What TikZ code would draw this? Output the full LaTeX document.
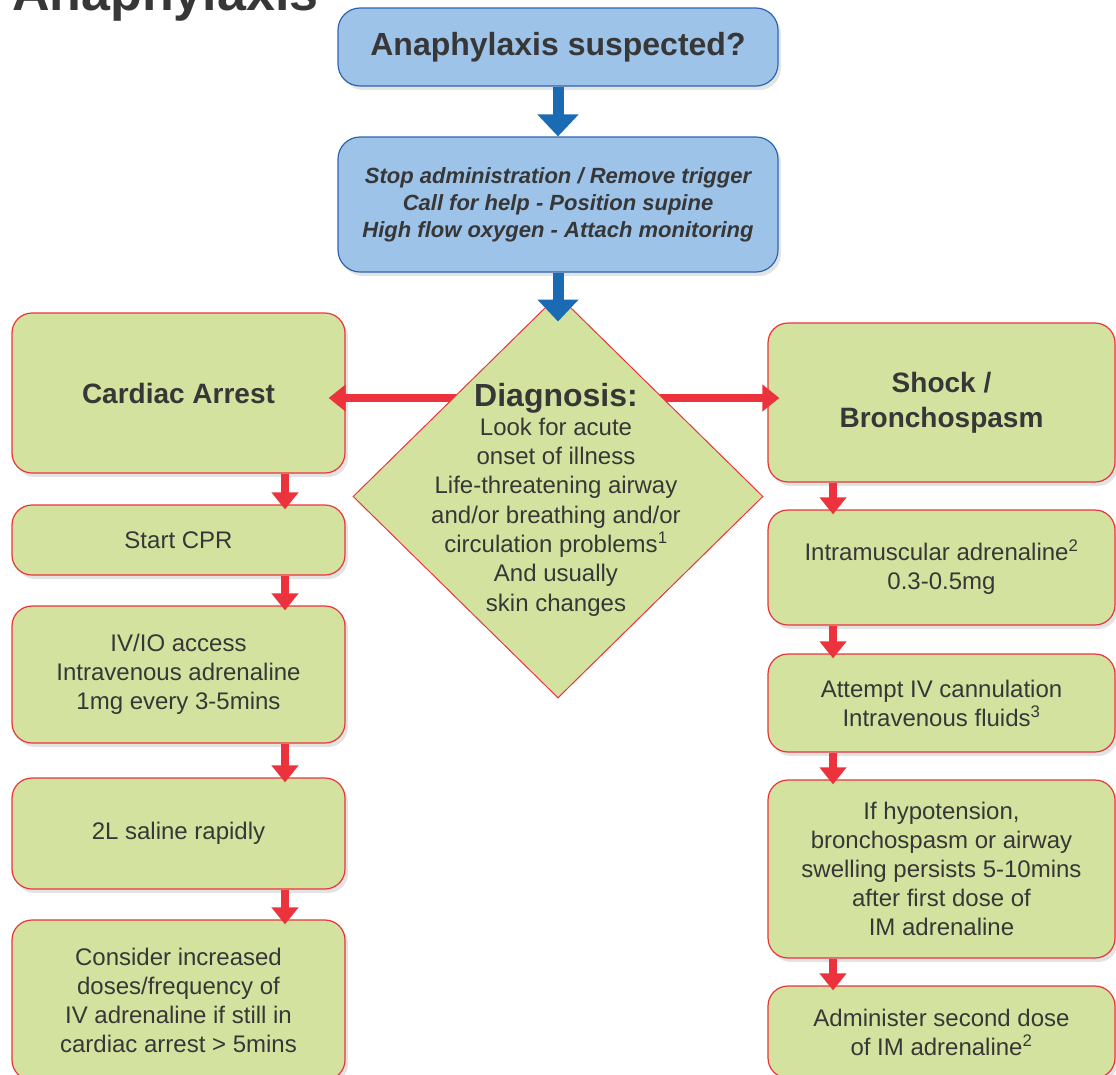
\documentclass[tikz,border=0pt]{standalone}
\usepackage{fontspec}
\setmainfont{Liberation Sans}
\usetikzlibrary{shapes.geometric,arrows.meta,shadows,calc}
\definecolor{gfill}{RGB}{211,227,159}
\definecolor{rline}{RGB}{236,50,60}
\definecolor{bfill}{RGB}{157,195,232}
\definecolor{bline}{RGB}{46,100,175}
\definecolor{barrow}{RGB}{26,106,180}
\definecolor{txt}{RGB}{55,55,55}
\begin{document}
\begin{tikzpicture}[x=1pt,y=-1pt,
  shadowed/.style={drop shadow={shadow xshift=3pt,shadow yshift=-4pt,opacity=0.22}},
  gbox/.style={draw=rline,line width=1.2pt,fill=gfill,rounded corners=20pt,align=center,text=txt,inner sep=0pt,font=\fontsize{24}{29}\selectfont,shadowed},
  bigtxt/.style={font=\fontsize{28}{35}\selectfont\bfseries},
  bbox/.style={draw=bline,line width=1.2pt,fill=bfill,rounded corners=22pt,align=center,text=txt,inner sep=0pt,shadowed},
  redarr/.style={draw=rline,line width=8pt,-{Triangle[width=26pt,length=17pt]}},
  bluearr/.style={draw=barrow,line width=11pt,-{Triangle[width=40pt,length=22pt]}},
  diabox/.style={diamond,draw=rline,line width=1pt,fill=gfill,inner sep=0pt,minimum width=410pt,minimum height=403pt},
  ttl/.style={font=\fontsize{52}{60}\selectfont\bfseries,text=txt,inner sep=0pt}
]
\useasboundingbox (0,0) rectangle (1116,1074);
\clip (0,0) rectangle (1116,1074);

\node[ttl,anchor=base west] (title) at (12,10) {Anaphylaxis};

% blue boxes
\node[bbox,minimum width=440pt,minimum height=78pt,font=\fontsize{32}{38}\selectfont\bfseries] (q) at (558,47) {Anaphylaxis suspected?};
\node[bbox,minimum width=440pt,minimum height=135pt,font=\fontsize{22}{27}\selectfont\bfseries\itshape] (st) at (558,204.5) {Stop administration / Remove trigger\\Call for help - Position supine\\High flow oxygen - Attach monitoring};

% left column
\node[gbox,minimum width=333pt,minimum height=160pt,bigtxt] (ca) at (178.5,393) {Cardiac Arrest};
\node[gbox,minimum width=333pt,minimum height=70pt] (cpr) at (178.5,540) {Start CPR};
\node[gbox,minimum width=333pt,minimum height=137pt] (iv) at (178.5,674.5) {IV/IO access\\Intravenous adrenaline\\1mg every 3-5mins};
\node[gbox,minimum width=333pt,minimum height=111pt] (sal) at (178.5,833.5) {2L saline rapidly};
\node[gbox,minimum width=333pt,minimum height=160pt] (cons) at (178.5,1000) {Consider increased\\doses/frequency of\\IV adrenaline if still in\\cardiac arrest > 5mins};

% right column
\node[gbox,minimum width=347pt,minimum height=159pt,bigtxt] (sh) at (941.5,402.5) {Shock /\\Bronchospasm};
\node[gbox,minimum width=347pt,minimum height=115pt] (im) at (941.5,567.5) {Intramuscular adrenaline\textsuperscript{2}\\0.3-0.5mg};
\node[gbox,minimum width=347pt,minimum height=98pt] (at) at (941.5,703) {Attempt IV cannulation\\Intravenous fluids\textsuperscript{3}};
\node[gbox,minimum width=347pt,minimum height=178pt] (hy) at (941.5,869) {If hypotension,\\bronchospasm or airway\\swelling persists 5-10mins\\after first dose of\\IM adrenaline};
\node[gbox,minimum width=347pt,minimum height=92pt] (ad) at (941.5,1032) {Administer second dose\\of IM adrenaline\textsuperscript{2}};

% horizontal arrows (behind diamond)
\coordinate (hl) at (558,398);
\draw[redarr] (hl) -- ($(hl -| ca.east)+(-17,0)$);
\draw[redarr] (hl) -- ($(hl -| sh.west)+(12,0)$);

% diamond
\node[diabox] (dia) at (558,496.5) {};
\node[anchor=base,inner sep=0pt,text=txt,font=\fontsize{32}{36}\selectfont\bfseries] (dh) at (556,406) {Diagnosis:};
\node[anchor=base,inner sep=0pt,text=txt,align=center,font=\fontsize{24}{29.3}\selectfont] (db) at (556,611) {Look for acute\\onset of illness\\Life-threatening airway\\and/or breathing and/or\\circulation problems\textsuperscript{1}\\And usually\\skin changes};

% vertical red arrows
\coordinate (lx) at (285,0);
\coordinate (rx) at (833,0);
\draw[redarr] (ca.south -| lx) -- ($(cpr.north -| lx)+(0,5)$);
\draw[redarr] (cpr.south -| lx) -- ($(iv.north -| lx)+(0,5)$);
\draw[redarr] (iv.south -| lx) -- ($(sal.north -| lx)+(0,5)$);
\draw[redarr] (sal.south -| lx) -- ($(cons.north -| lx)+(0,5)$);
\draw[redarr] (sh.south -| rx) -- ($(im.north -| rx)+(0,5)$);
\draw[redarr] (im.south -| rx) -- ($(at.north -| rx)+(0,5)$);
\draw[redarr] (at.south -| rx) -- ($(hy.north -| rx)+(0,5)$);
\draw[redarr] (hy.south -| rx) -- ($(ad.north -| rx)+(0,5)$);

% blue arrows
\draw[bluearr] (q.south) -- (st.north);
\draw[bluearr] (st.south) -- ($(dia.north)+(0,27)$);
\end{tikzpicture}
\end{document}
